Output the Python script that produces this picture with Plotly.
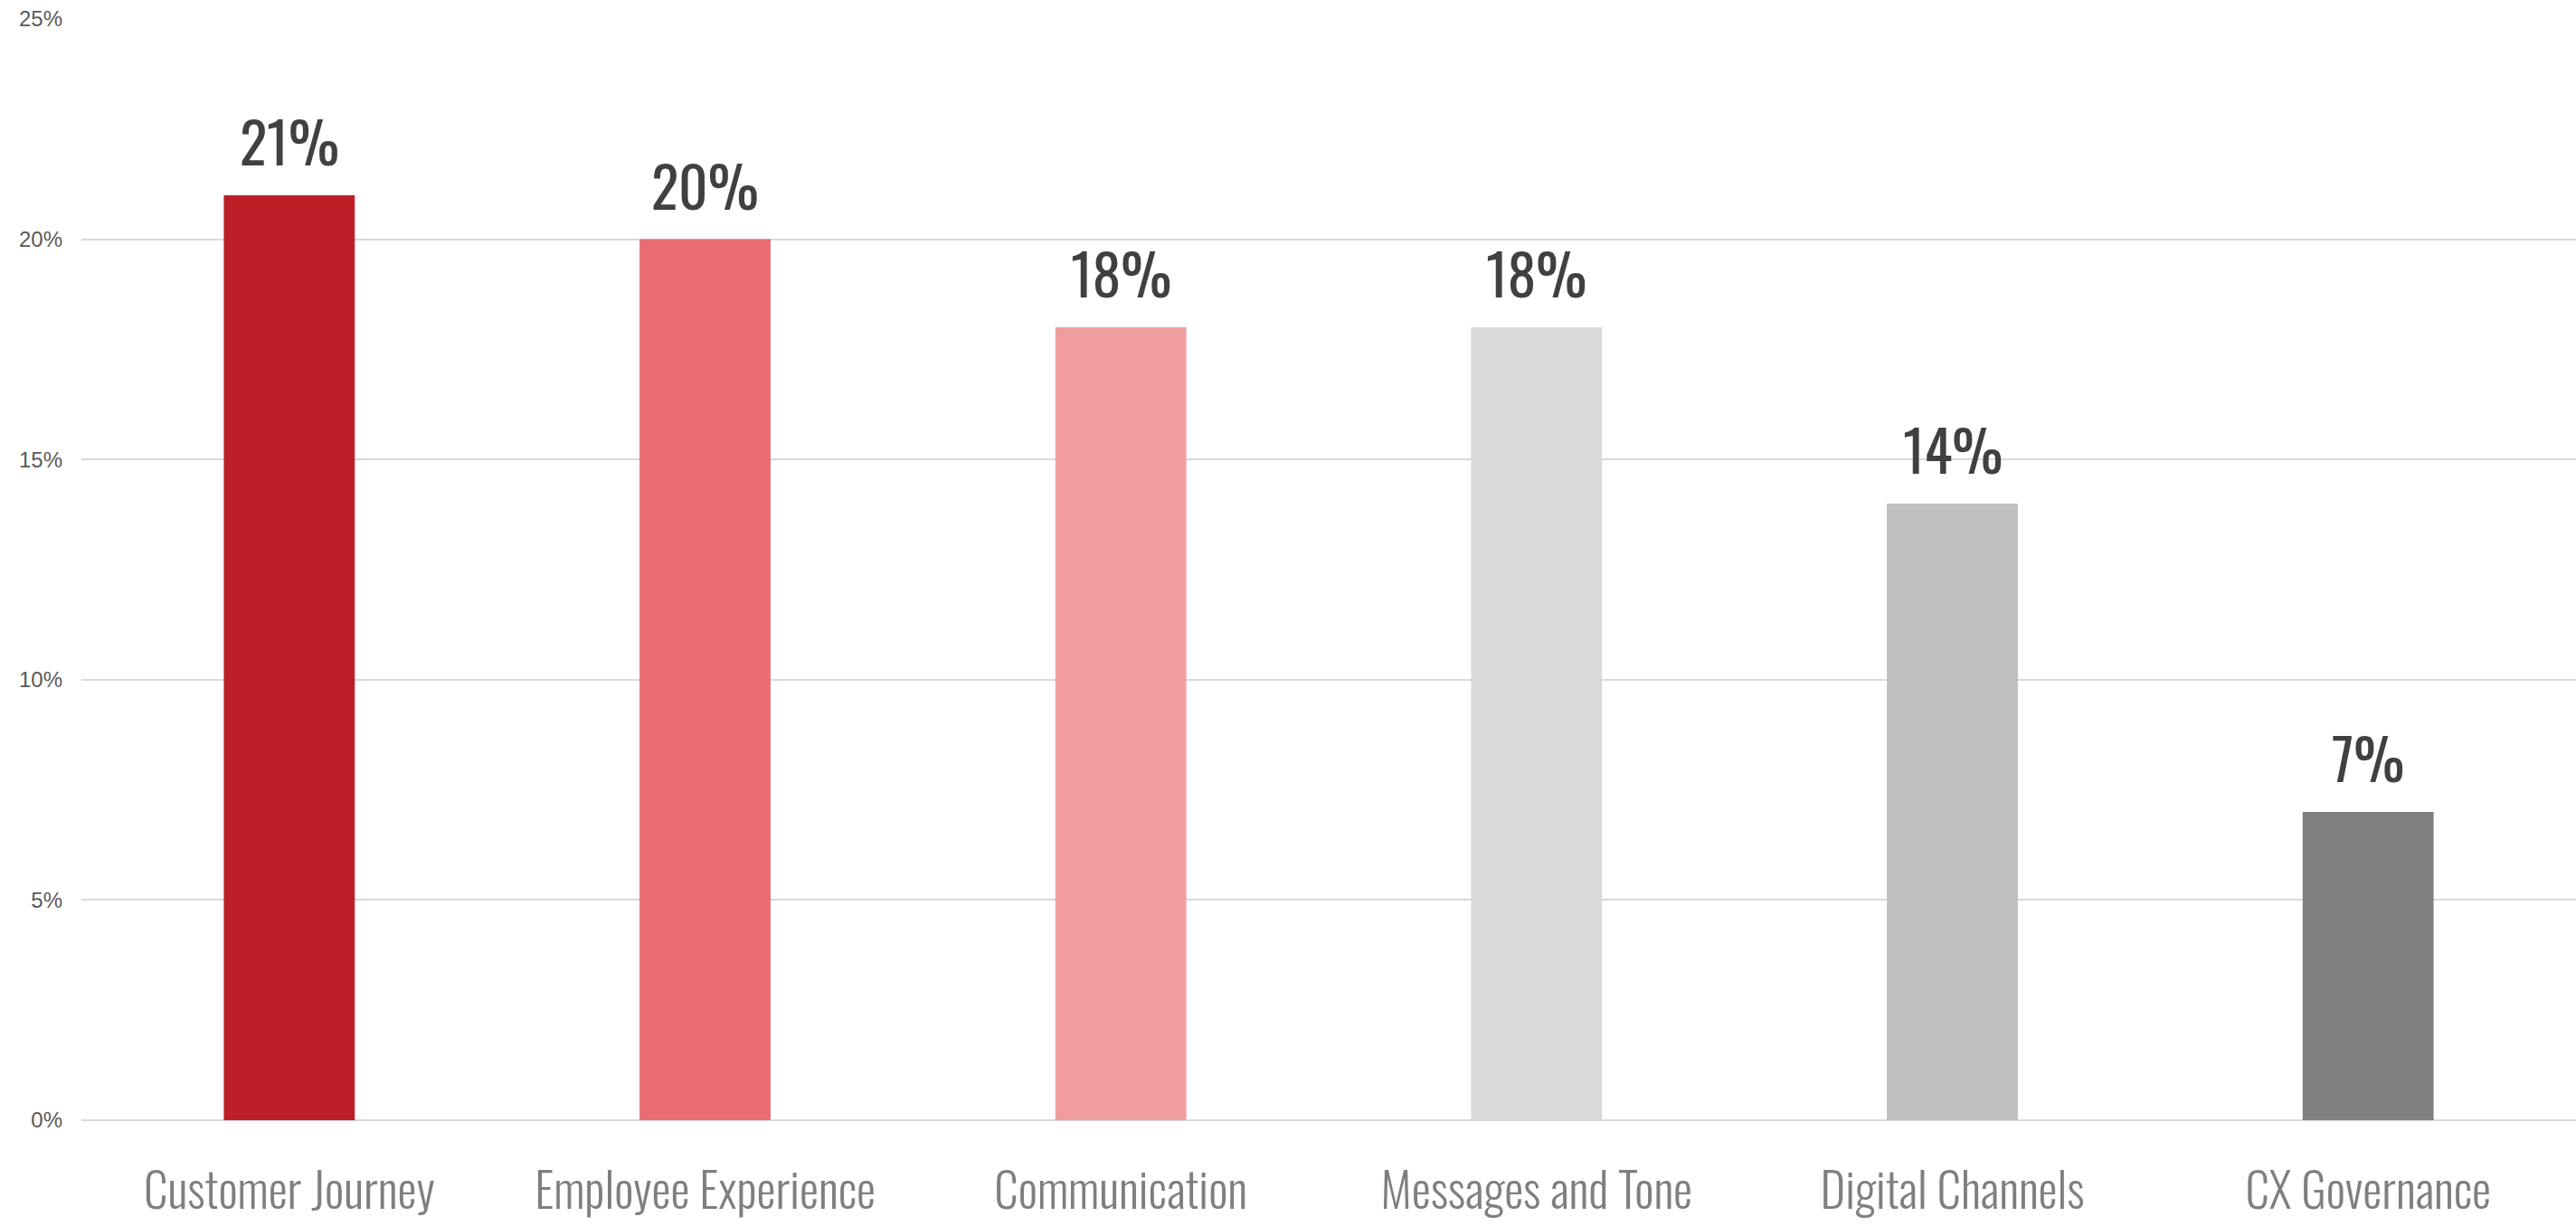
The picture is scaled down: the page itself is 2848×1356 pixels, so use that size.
import plotly.graph_objects as go

# Share of responses by focus area
categories = [
    "Customer Journey",
    "Employee Experience",
    "Communication",
    "Messages and Tone",
    "Digital Channels",
    "CX Governance",
]
shares = [21, 20, 18, 18, 14, 7]
bar_colors = ["#BE1F26", "#E86C72", "#F09DA0", "#D9D9D9", "#BFBFBF", "#7F7F7F"]
y_ticks = [0, 5, 10, 15, 20, 25]
y_tick_labels = [f"{v}%" for v in y_ticks]

CONDENSED = "Oswald, 'Liberation Sans Narrow', 'DejaVu Sans Condensed', sans-serif"
CONDENSED_LIGHT = "'Oswald Light', Oswald, 'Liberation Sans Narrow', sans-serif"

fig = go.Figure(
    go.Bar(
        x=categories,
        y=shares,
        marker=dict(color=bar_colors, line=dict(width=0)),
        hoverinfo="skip",
    )
)

# Value labels above each bar
for cat, val in zip(categories, shares):
    fig.add_annotation(
        x=cat,
        y=val,
        text=f"{val}%",
        showarrow=False,
        yanchor="bottom",
        yshift=13,
        font=dict(family=CONDENSED, size=63, color="#404040"),
    )

fig.update_layout(
    width=2848,
    height=1356,
    margin=dict(l=90, r=0, t=21, b=117),
    paper_bgcolor="white",
    plot_bgcolor="white",
    bargap=0.685,
    showlegend=False,
    xaxis=dict(
        showgrid=False,
        showline=False,
        zeroline=False,
        ticks="",
        automargin=False,
        tickfont=dict(family=CONDENSED_LIGHT, size=53, color="#7F7F7F", weight=300),
        ticklabelstandoff=44,
    ),
    yaxis=dict(
        range=[0, 25],
        tickvals=y_ticks,
        ticktext=y_tick_labels,
        showgrid=True,
        gridcolor="#D9D9D9",
        gridwidth=2,
        zeroline=True,
        zerolinecolor="#D9D9D9",
        zerolinewidth=2,
        showline=False,
        ticks="",
        automargin=False,
        ticklabelstandoff=20,
        tickfont=dict(family="'Liberation Sans', Arial, sans-serif", size=24, color="#595959"),
    ),
)

fig.write_html("out.html")
